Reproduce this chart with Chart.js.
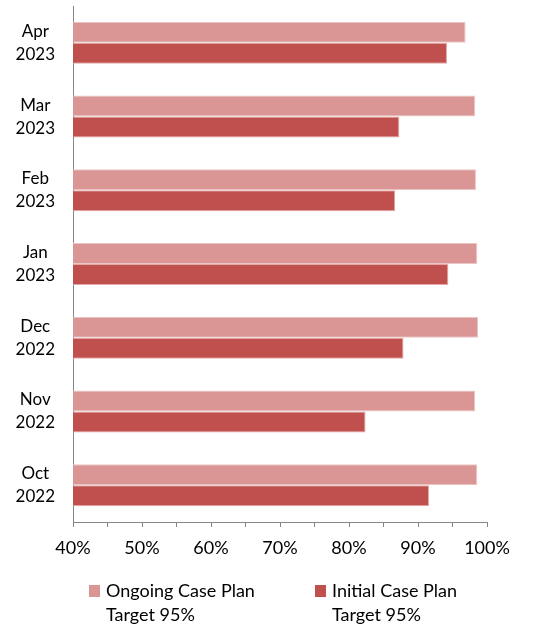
<!DOCTYPE html>
<html>
<head>
<meta charset="utf-8">
<script src="https://cdn.jsdelivr.net/npm/chart.js@4/dist/chart.umd.min.js"></script>
<style>
  html, body { margin: 0; padding: 0; background: #fff; }
  #wrap { width: 533px; height: 628px; }
</style>
</head>
<body>
<div id="wrap"><canvas id="chart"></canvas></div>
<script>
const months = [["Apr", "2023"], ["Mar", "2023"], ["Feb", "2023"], ["Jan", "2023"], ["Dec", "2022"], ["Nov", "2022"], ["Oct", "2022"]];
const ongoing = [96.9, 98.3, 98.4, 98.6, 98.7, 98.3, 98.6];
const initial = [94.2, 87.3, 86.7, 94.4, 87.9, 82.4, 91.6];
const seriesNames = [["Ongoing Case Plan", "Target 95%"], ["Initial Case Plan", "Target 95%"]];

const FONT = "Lato, 'Open Sans', sans-serif";
Chart.defaults.font.family = FONT;
Chart.defaults.font.size = 17;
Chart.defaults.color = "#000";

// legend drawn by hand: two-line labels, box beside first line
const bottomLegend = {
  id: "bottomLegend",
  afterDraw(chart) {
    const c = chart.ctx;
    const starts = [89, 315];
    c.save();
    c.font = "18px " + FONT;
    c.textBaseline = "middle";
    chart.data.datasets.forEach((ds, i) => {
      const x = starts[i];
      c.fillStyle = ds.backgroundColor;
      c.fillRect(x, 585, 11, 12);
      c.fillStyle = "#000";
      ds.label.forEach((line, j) => c.fillText(line, x + 17, 591 + j * 24));
    });
    c.restore();
  }
};

const ctx = document.getElementById("chart").getContext("2d");
new Chart(ctx, {
  type: "bar",
  data: {
    labels: months,
    datasets: [
      {
        label: seriesNames[0],
        data: ongoing,
        backgroundColor: "#D99694",
        borderColor: "#EBC6C5",
        borderWidth: 1,
        borderSkipped: "start"
      },
      {
        label: seriesNames[1],
        data: initial,
        backgroundColor: "#C0504D",
        borderColor: "#E3A8A6",
        borderWidth: 1,
        borderSkipped: "start"
      }
    ]
  },
  options: {
    indexAxis: "y",
    responsive: true,
    maintainAspectRatio: false,
    animation: false,
    layout: { padding: { top: 6, right: 46, left: 0, bottom: 60 } },
    datasets: {
      bar: { categoryPercentage: 0.57, barPercentage: 1.0 }
    },
    scales: {
      x: {
        min: 40,
        max: 100,
        ticks: {
          stepSize: 5,
          padding: 10,
          autoSkip: false,
          maxRotation: 0,
          font: { size: 18 },
          callback: v => (v % 10 === 0 ? v + "%" : "")
        },
        grid: { drawOnChartArea: false, tickLength: 5, color: "#868686" },
        border: { color: "#868686" },
        afterFit: axis => {
          axis.height = 46;
          axis.paddingLeft = 0;
          axis.paddingRight = 0;
        }
      },
      y: {
        ticks: { padding: 10, crossAlign: "center", font: { size: 17, lineHeight: 1.35 } },
        grid: { display: false },
        border: { color: "#868686" },
        afterFit: axis => {
          axis.width = 73;
          axis.paddingTop = 0;
          axis.paddingBottom = 0;
        }
      }
    },
    plugins: {
      tooltip: { enabled: false },
      legend: { display: false }
    }
  },
  plugins: [bottomLegend]
});
</script>
</body>
</html>
